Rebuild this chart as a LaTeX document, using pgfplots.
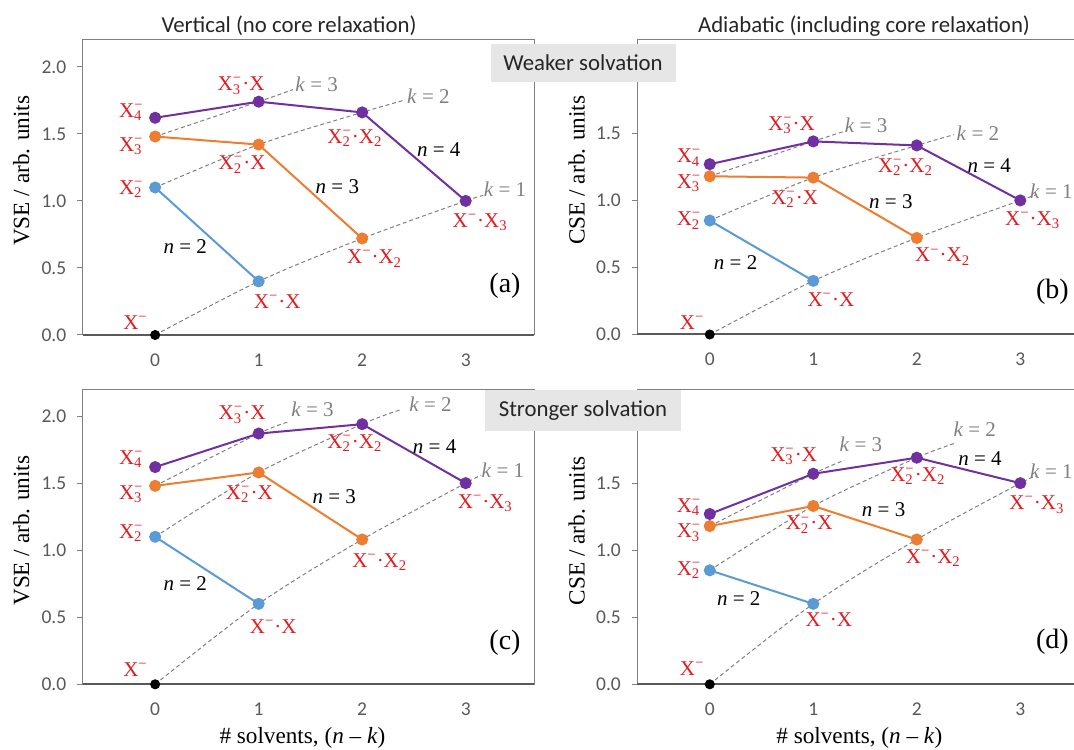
\documentclass[border=0pt]{standalone}
\usepackage{fontspec}
\setmainfont{Liberation Serif}
\newfontfamily\calibri{Carlito}
\usepackage{pgfplots}
\pgfplotsset{compat=1.18}

\definecolor{nblue}{RGB}{91,155,213}
\definecolor{norange}{RGB}{237,125,49}
\definecolor{npurple}{RGB}{112,48,160}
\definecolor{lblred}{RGB}{226,28,32}
\definecolor{kgray}{RGB}{128,128,128}
\definecolor{spine}{RGB}{128,128,128}
\definecolor{axdark}{RGB}{89,89,89}
\definecolor{ticktext}{RGB}{89,89,89}
\definecolor{boxgray}{RGB}{230,230,230}

% stacked sub/superscript, X_n^-
\newcommand{\Xs}[1]{X\rlap{\textsuperscript{−}}\textsubscript{#1}\kern0.05em}
\newcommand{\Xm}{X\textsuperscript{−}}

\pgfplotsset{
  panel/.style={
    scale only axis, width=225.65pt, height=147.5pt,
    anchor=south west, clip=false,
    xmin=-0.7, xmax=3.66, ymin=0, ymax=2.2,
    xtick={0,1,2,3}, ytick={0,0.5,1,1.5,2},
    axis line style={draw=spine, line width=0.5pt},
    xtick style={draw=none}, ytick pos=left, tick align=outside,
    major tick length=2.7pt, ytick style={draw=spine, line width=0.5pt},
    tick label style={font=\calibri\fontsize{9.75}{11}\selectfont, text=ticktext},
    /pgf/number format/assume math mode=true,
    yticklabel style={xshift=-2pt, /pgf/number format/.cd, fixed, fixed zerofill, precision=1, /tikz/.cd},
    xticklabel style={yshift=-3pt},
    ylabel style={font=\fontsize{11.6}{13}\selectfont, anchor=center},
    xlabel style={font=\fontsize{11.6}{13}\selectfont, anchor=base},
  },
  nser/.style={line width=1pt, mark=*, mark size=2.5pt, mark options={solid}},
  kline/.style={kgray, line width=0.5pt, dash pattern=on 2pt off 1.4pt, smooth, tension=0.5},
  xdot/.style={only marks, mark=*, mark size=2.3pt, black},
}
\tikzset{
  lbl/.style={text=lblred, font=\fontsize{10.5}{12}\selectfont, inner sep=0pt},
  nlbl/.style={font=\fontsize{10.5}{12}\selectfont, inner sep=0pt},
  klbl/.style={text=kgray, font=\fontsize{10.5}{12}\selectfont, inner sep=0pt},
  plbl/.style={font=\fontsize{14}{16}\selectfont, inner sep=0pt},
  ttl/.style={font=\calibri\fontsize{11.4}{13}\selectfont, text=black!85, anchor=base},
  sbox/.style={fill=boxgray, font=\calibri\fontsize{11.4}{13}\selectfont, text=black!85, inner sep=0pt},
}

\begin{document}
\begin{tikzpicture}
\useasboundingbox (0,0) rectangle (537pt,374.5pt);

% (a) vertical, weaker solvation
\begin{axis}[panel, at={(41.35pt,207pt)},
    ylabel={VSE / arb. units},
    ylabel style={at={(axis description cs:-0.136,0.557)}}]
  \addplot[kline] coordinates {(0,0) (1,0.40) (2,0.72) (3,1.00) (3.17,1.04)};
  \addplot[kline] coordinates {(0,1.10) (1,1.42) (2,1.66) (2.4,1.75)};
  \addplot[kline] coordinates {(0,1.48) (1,1.74) (1.33,1.83)};
  \addplot[nser, nblue] coordinates {(0,1.10) (1,0.40)};
  \addplot[nser, norange] coordinates {(0,1.48) (1,1.42) (2,0.72)};
  \addplot[nser, npurple] coordinates {(0,1.62) (1,1.74) (2,1.66) (3,1.00)};
  \addplot[xdot] coordinates {(0,0)};
  \draw[line width=1pt, axdark] (rel axis cs:0,0) -- (rel axis cs:1,0);
  \node[lbl] at (axis cs:-0.23,1.66) {\Xs{4}};
  \node[lbl] at (axis cs:-0.23,1.41) {\Xs{3}};
  \node[lbl] at (axis cs:-0.23,1.09) {\Xs{2}};
  \node[lbl] at (axis cs:-0.19,0.09) {\Xm};
  \node[lbl] at (axis cs:0.83,1.86) {\Xs{3}·X};
  \node[lbl] at (axis cs:0.84,1.27) {\Xs{2}·X};
  \node[lbl] at (axis cs:1.93,1.47) {\Xs{2}·X\textsubscript{2}};
  \node[lbl] at (axis cs:3.14,0.84) {\Xm·X\textsubscript{3}};
  \node[lbl] at (axis cs:2.12,0.57) {\Xm·X\textsubscript{2}};
  \node[lbl] at (axis cs:1.18,0.25) {\Xm·X};
  \node[nlbl] at (axis cs:0.29,0.66) {\textit{n} = 2};
  \node[nlbl] at (axis cs:1.76,1.11) {\textit{n} = 3};
  \node[nlbl] at (axis cs:2.74,1.38) {\textit{n} = 4};
  \node[klbl] at (axis cs:1.56,1.87) {\textit{k} = 3};
  \node[klbl] at (axis cs:2.64,1.78) {\textit{k} = 2};
  \node[klbl] at (axis cs:3.38,1.09) {\textit{k} = 1};
  \node[plbl] at (axis cs:3.38,0.37) {(a)};
\end{axis}

% (b) adiabatic, weaker solvation
\begin{axis}[panel, at={(318.65pt,207.25pt)},
    ylabel={CSE / arb. units},
    ylabel style={at={(axis description cs:-0.134,0.557)}}]
  \addplot[kline] coordinates {(0,0) (1,0.40) (2,0.72) (3,1.00) (3.15,1.04)};
  \addplot[kline] coordinates {(0,0.85) (1,1.17) (2,1.41) (2.36,1.49)};
  \addplot[kline] coordinates {(0,1.18) (1,1.44) (1.32,1.52)};
  \addplot[nser, nblue] coordinates {(0,0.85) (1,0.40)};
  \addplot[nser, norange] coordinates {(0,1.18) (1,1.17) (2,0.72)};
  \addplot[nser, npurple] coordinates {(0,1.27) (1,1.44) (2,1.41) (3,1.00)};
  \addplot[xdot] coordinates {(0,0)};
  \draw[line width=1pt, axdark] (rel axis cs:0,0) -- (rel axis cs:1,0);
  \node[lbl] at (axis cs:-0.2,1.32) {\Xs{4}};
  \node[lbl] at (axis cs:-0.2,1.13) {\Xs{3}};
  \node[lbl] at (axis cs:-0.2,0.85) {\Xs{2}};
  \node[lbl] at (axis cs:-0.17,0.09) {\Xm};
  \node[lbl] at (axis cs:0.79,1.56) {\Xs{3}·X};
  \node[lbl] at (axis cs:0.82,1.01) {\Xs{2}·X};
  \node[lbl] at (axis cs:1.89,1.25) {\Xs{2}·X\textsubscript{2}};
  \node[lbl] at (axis cs:3.12,0.85) {\Xm·X\textsubscript{3}};
  \node[lbl] at (axis cs:2.25,0.58) {\Xm·X\textsubscript{2}};
  \node[lbl] at (axis cs:1.17,0.26) {\Xm·X};
  \node[nlbl] at (axis cs:0.25,0.54) {\textit{n} = 2};
  \node[nlbl] at (axis cs:1.75,0.99) {\textit{n} = 3};
  \node[nlbl] at (axis cs:2.70,1.26) {\textit{n} = 4};
  \node[klbl] at (axis cs:1.51,1.56) {\textit{k} = 3};
  \node[klbl] at (axis cs:2.59,1.50) {\textit{k} = 2};
  \node[klbl] at (axis cs:3.30,1.07) {\textit{k} = 1};
  \node[plbl] at (axis cs:3.31,0.32) {(b)};
\end{axis}

% (c) vertical, stronger solvation
\begin{axis}[panel, at={(41.35pt,32.35pt)},
    ylabel={VSE / arb. units},
    ylabel style={at={(axis description cs:-0.136,0.521)}},
    xlabel={\# solvents, (\textit{n} – \textit{k})},
    xlabel style={at={(axis description cs:0.487,-0.2)}}]
  \addplot[kline] coordinates {(0,0) (1,0.60) (2,1.08) (3,1.50) (3.15,1.56)};
  \addplot[kline] coordinates {(0,1.10) (1,1.58) (2,1.94) (2.38,2.05)};
  \addplot[kline] coordinates {(0,1.48) (1,1.87) (1.3,1.96)};
  \addplot[nser, nblue] coordinates {(0,1.10) (1,0.60)};
  \addplot[nser, norange] coordinates {(0,1.48) (1,1.58) (2,1.08)};
  \addplot[nser, npurple] coordinates {(0,1.62) (1,1.87) (2,1.94) (3,1.50)};
  \addplot[xdot] coordinates {(0,0)};
  \draw[line width=1pt, axdark] (rel axis cs:0,0) -- (rel axis cs:1,0);
  \node[lbl] at (axis cs:-0.23,1.68) {\Xs{4}};
  \node[lbl] at (axis cs:-0.23,1.42) {\Xs{3}};
  \node[lbl] at (axis cs:-0.23,1.13) {\Xs{2}};
  \node[lbl] at (axis cs:-0.19,0.11) {\Xm};
  \node[lbl] at (axis cs:0.84,2.01) {\Xs{3}·X};
  \node[lbl] at (axis cs:0.91,1.42) {\Xs{2}·X};
  \node[lbl] at (axis cs:1.93,1.80) {\Xs{2}·X\textsubscript{2}};
  \node[lbl] at (axis cs:3.19,1.35) {\Xm·X\textsubscript{3}};
  \node[lbl] at (axis cs:2.17,0.91) {\Xm·X\textsubscript{2}};
  \node[lbl] at (axis cs:1.14,0.43) {\Xm·X};
  \node[nlbl] at (axis cs:0.29,0.75) {\textit{n} = 2};
  \node[nlbl] at (axis cs:1.73,1.40) {\textit{n} = 3};
  \node[nlbl] at (axis cs:2.70,1.77) {\textit{n} = 4};
  \node[klbl] at (axis cs:1.52,2.05) {\textit{k} = 3};
  \node[klbl] at (axis cs:2.66,2.09) {\textit{k} = 2};
  \node[klbl] at (axis cs:3.36,1.60) {\textit{k} = 1};
  \node[plbl] at (axis cs:3.38,0.31) {(c)};
\end{axis}

% (d) adiabatic, stronger solvation
\begin{axis}[panel, at={(318.65pt,32.35pt)},
    ylabel={CSE / arb. units},
    ylabel style={at={(axis description cs:-0.134,0.521)}},
    xlabel={\# solvents, (\textit{n} – \textit{k})},
    xlabel style={at={(axis description cs:0.492,-0.2)}}]
  \addplot[kline] coordinates {(0,0) (1,0.60) (2,1.08) (3,1.50) (3.15,1.55)};
  \addplot[kline] coordinates {(0,0.85) (1,1.33) (2,1.69) (2.38,1.80)};
  \addplot[kline] coordinates {(0,1.18) (1,1.57) (1.3,1.67)};
  \addplot[nser, nblue] coordinates {(0,0.85) (1,0.60)};
  \addplot[nser, norange] coordinates {(0,1.18) (1,1.33) (2,1.08)};
  \addplot[nser, npurple] coordinates {(0,1.27) (1,1.57) (2,1.69) (3,1.50)};
  \addplot[xdot] coordinates {(0,0)};
  \draw[line width=1pt, axdark] (rel axis cs:0,0) -- (rel axis cs:1,0);
  \node[lbl] at (axis cs:-0.2,1.32) {\Xs{4}};
  \node[lbl] at (axis cs:-0.2,1.13) {\Xs{3}};
  \node[lbl] at (axis cs:-0.2,0.85) {\Xs{2}};
  \node[lbl] at (axis cs:-0.17,0.12) {\Xm};
  \node[lbl] at (axis cs:0.81,1.70) {\Xs{3}·X};
  \node[lbl] at (axis cs:0.96,1.19) {\Xs{2}·X};
  \node[lbl] at (axis cs:2.01,1.55) {\Xs{2}·X\textsubscript{2}};
  \node[lbl] at (axis cs:3.16,1.34) {\Xm·X\textsubscript{3}};
  \node[lbl] at (axis cs:2.16,0.94) {\Xm·X\textsubscript{2}};
  \node[lbl] at (axis cs:1.15,0.48) {\Xm·X};
  \node[nlbl] at (axis cs:0.28,0.64) {\textit{n} = 2};
  \node[nlbl] at (axis cs:1.68,1.30) {\textit{n} = 3};
  \node[nlbl] at (axis cs:2.61,1.68) {\textit{n} = 4};
  \node[klbl] at (axis cs:1.46,1.79) {\textit{k} = 3};
  \node[klbl] at (axis cs:2.56,1.90) {\textit{k} = 2};
  \node[klbl] at (axis cs:3.30,1.59) {\textit{k} = 1};
  \node[plbl] at (axis cs:3.31,0.32) {(d)};
\end{axis}

% column titles and row boxes
\node[ttl] at (144.5pt,358pt) {Vertical (no core relaxation)};
\node[ttl] at (432pt,358pt) {Adiabatic (including core relaxation)};
\node[sbox, minimum width=92.5pt, minimum height=19pt] at (291.5pt,343pt) {Weaker solvation};
\node[sbox, minimum width=97.75pt, minimum height=20.5pt] at (291.5pt,169.25pt) {Stronger solvation};
\end{tikzpicture}
\end{document}
